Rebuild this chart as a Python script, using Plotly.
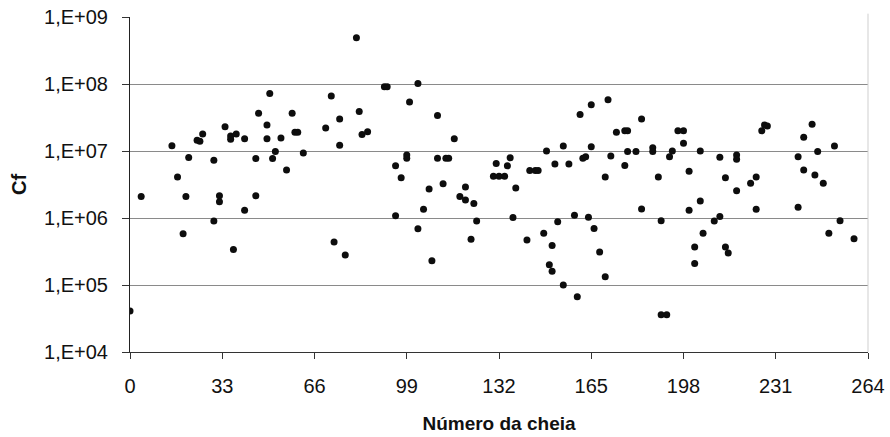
import plotly.graph_objects as go

# Flood number (Número da cheia) and the corresponding Cf value
numero_cheia = [
    0, 4, 15, 17, 21, 20, 19, 24, 25, 26, 30, 30, 32, 32, 34, 36, 36, 38, 41, 37,
    41, 45, 45, 46, 49, 50, 49, 52, 51, 54, 56, 58, 59, 60, 62, 72, 70, 75, 75, 73,
    77, 81, 82, 83, 85, 91, 92, 103, 100, 110, 116, 99, 99, 95, 97, 110, 113, 114, 107, 112,
    95, 105, 103, 108, 120, 118, 120, 123, 124, 122, 131, 136, 135, 130, 132, 134, 138, 143, 145, 146,
    149, 152, 155, 157, 162, 163, 165, 161, 165, 171, 170, 137, 142, 148, 153, 151, 150, 151, 155, 160,
    159, 164, 166, 168, 170, 172, 174, 177, 178, 183, 177, 178, 181, 187, 187, 189, 183, 190, 190, 192,
    193, 194, 196, 198, 198, 200, 204, 211, 213, 204, 200, 209, 211, 205, 202, 202, 213, 214, 217, 217,
    217, 222, 224, 224, 226, 227, 228, 239, 239, 241, 241, 244, 246, 245, 248, 252, 254, 250, 259,
]
cf = [
    4.1e4, 2.1e6, 1.2e7, 4.1e6, 8.0e6, 2.1e6, 5.8e5, 1.45e7, 1.4e7, 1.8e7, 7.3e6, 9.0e5, 2.15e6, 1.75e6, 2.3e7, 1.67e7, 1.5e7, 1.8e7, 1.53e7, 3.4e5,
    1.3e6, 7.7e6, 2.15e6, 3.65e7, 2.45e7, 7.2e7, 1.53e7, 9.8e6, 7.7e6, 1.56e7, 5.2e6, 3.65e7, 1.9e7, 1.9e7, 9.3e6, 6.6e7, 2.2e7, 3.0e7, 1.22e7, 4.4e5,
    2.8e5, 4.9e8, 3.9e7, 1.77e7, 1.94e7, 9.1e7, 9.1e7, 1.02e8, 5.4e7, 3.4e7, 1.53e7, 8.7e6, 7.8e6, 6.0e6, 4.0e6, 7.8e6, 7.8e6, 7.8e6, 2.7e6, 3.25e6,
    1.08e6, 1.35e6, 6.9e5, 2.3e5, 2.9e6, 2.1e6, 1.86e6, 1.65e6, 9.0e5, 4.8e5, 6.5e6, 7.9e6, 6.0e6, 4.2e6, 4.2e6, 4.2e6, 2.8e6, 5.1e6, 5.1e6, 5.1e6,
    1.0e7, 6.4e6, 1.19e7, 6.4e6, 7.8e6, 8.2e6, 1.16e7, 3.5e7, 4.9e7, 5.8e7, 4.1e6, 1.02e6, 4.7e5, 5.9e5, 8.8e5, 3.9e5, 2.0e5, 1.6e5, 1.0e5, 6.7e4,
    1.1e6, 1.03e6, 7.0e5, 3.1e5, 1.33e5, 8.4e6, 1.9e7, 2.0e7, 2.0e7, 3.0e7, 6.1e6, 9.8e6, 9.8e6, 1.12e7, 9.8e6, 4.1e6, 1.36e6, 9.1e5, 3.6e4, 3.6e4,
    8.2e6, 1.0e7, 2.0e7, 2.0e7, 1.3e7, 5.0e6, 1.0e7, 8.1e6, 4.0e6, 1.8e6, 1.3e6, 9.0e5, 1.05e6, 5.9e5, 3.7e5, 2.1e5, 3.7e5, 3.0e5, 8.7e6, 7.5e6,
    2.55e6, 3.3e6, 4.1e6, 1.35e6, 2.0e7, 2.45e7, 2.36e7, 1.45e6, 8.2e6, 5.2e6, 1.6e7, 2.5e7, 9.8e6, 4.4e6, 3.3e6, 1.19e7, 9.1e5, 5.9e5, 4.9e5,
]

x_ticks = [0, 33, 66, 99, 132, 165, 198, 231, 264]
y_ticks = [1e4, 1e5, 1e6, 1e7, 1e8, 1e9]
y_tick_text = ["1,E+04", "1,E+05", "1,E+06", "1,E+07", "1,E+08", "1,E+09"]

FONT = "Liberation Sans, Arial, sans-serif"

fig = go.Figure(
    go.Scatter(
        x=numero_cheia,
        y=cf,
        mode="markers",
        marker=dict(symbol="circle", size=7, color="#0d0d0d", line=dict(width=0)),
        showlegend=False,
    )
)

fig.update_layout(
    width=890,
    height=437,
    margin=dict(l=130, r=22, t=17, b=85, autoexpand=False),
    paper_bgcolor="white",
    plot_bgcolor="white",
    font=dict(family=FONT, size=20, color="#111111"),
)

fig.update_xaxes(
    range=[0, 264],
    automargin=False,
    tickvals=x_ticks,
    ticks="outside",
    ticklen=6,
    tickwidth=1,
    tickcolor="#333333",
    ticklabelstandoff=10,
    showline=True,
    linecolor="#333333",
    linewidth=1,
    showgrid=False,
    zeroline=False,
    tickfont=dict(family=FONT, size=20, color="#111111"),
    title=dict(
        text="<b>Número da cheia</b>",
        font=dict(family=FONT, size=19, color="#111111"),
        standoff=20,
    ),
)

fig.update_yaxes(
    type="log",
    range=[4, 9],
    automargin=False,
    tickvals=y_ticks,
    ticktext=y_tick_text,
    ticks="outside",
    ticklen=7,
    tickwidth=1,
    tickcolor="#333333",
    ticklabelstandoff=10,
    showline=True,
    linecolor="#222222",
    linewidth=1,
    showgrid=True,
    gridcolor="#8a8a8a",
    gridwidth=1,
    zeroline=False,
    tickfont=dict(family=FONT, size=20, color="#111111"),
    title=dict(
        text="<b>Cf</b>",
        font=dict(family=FONT, size=20, color="#111111"),
        standoff=12,
    ),
)

# faint right-hand border of the plot area
fig.add_shape(
    type="line", xref="paper", yref="paper", x0=1, x1=1, y0=0, y1=1.01,
    line=dict(color="#cfcfcf", width=1),
)

fig.write_html("out.html")
